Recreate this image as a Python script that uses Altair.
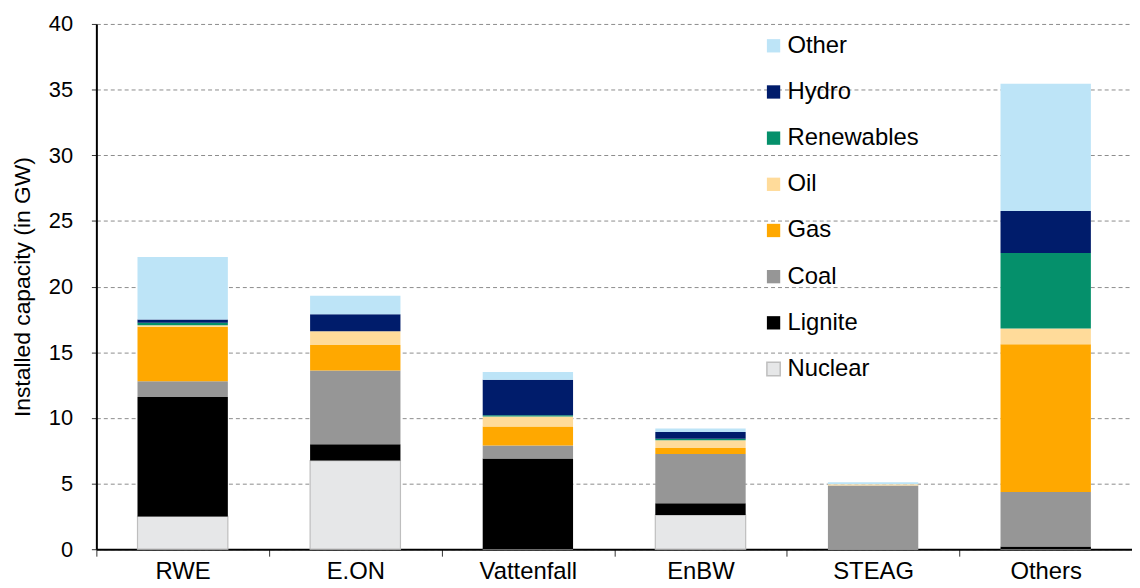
import altair as alt
import pandas as pd

companies = ["RWE", "E.ON", "Vattenfall", "EnBW", "STEAG", "Others"]
fuels = ["Nuclear", "Lignite", "Coal", "Gas", "Oil", "Renewables", "Hydro", "Other"]

nuclear = [2.5, 6.75, 0.0, 2.6, 0.0, 0.0]
lignite = [9.1, 1.25, 6.9, 0.9, 0.0, 0.2]
coal = [1.2, 5.6, 1.0, 3.75, 4.85, 4.15]
gas = [4.15, 1.95, 1.45, 0.45, 0.0, 11.25]
oil = [0.1, 1.05, 0.75, 0.6, 0.1, 1.2]
renewables = [0.2, 0.0, 0.1, 0.12, 0.0, 5.75]
hydro = [0.25, 1.3, 2.7, 0.5, 0.0, 3.2]
other = [4.75, 1.4, 0.6, 0.27, 0.15, 9.7]

series = [nuclear, lignite, coal, gas, oil, renewables, hydro, other]
colors = {
    "Other": "#BDE4F7",
    "Hydro": "#001C6B",
    "Renewables": "#05906B",
    "Oil": "#FFDB9A",
    "Gas": "#FFA800",
    "Coal": "#969696",
    "Lignite": "#000000",
    "Nuclear": "#E6E7E8",
}
strokes = {f: ("#BEBEBE" if f == "Nuclear" else "transparent") for f in colors}
legend_order = ["Other", "Hydro", "Renewables", "Oil", "Gas", "Coal", "Lignite", "Nuclear"]

rows = []
for i, (f, vals) in enumerate(zip(fuels, series)):
    for c, v in zip(companies, vals):
        rows.append({"company": c, "fuel": f, "value": v, "idx": i})
df = pd.DataFrame(rows)

FONT = "Liberation Sans"

leg = alt.Legend(title=None, orient="none", legendX=670, legendY=10,
                 symbolType="square", symbolSize=180, symbolStrokeWidth=1.5,
                 labelFontSize=24, labelFont=FONT, labelColor="#000000",
                 labelOffset=2, rowPadding=22.5, padding=0, labelLimit=300)

chart = alt.Chart(df).mark_bar(width=91, strokeWidth=1.2).encode(
    x=alt.X("company:N", sort=companies,
            scale=alt.Scale(paddingInner=0, paddingOuter=0),
            axis=alt.Axis(title=None, labelAngle=0, tickBand="extent", tickSize=7,
                          tickColor="#333333", domainColor="#000000", domainWidth=2,
                          labelFontSize=24, labelFont=FONT, labelColor="#000000",
                          labelPadding=3, grid=False)),
    y=alt.Y("value:Q", stack="zero",
            scale=alt.Scale(domain=[0, 40], nice=False),
            axis=alt.Axis(title="Installed capacity (in GW)", values=list(range(0, 41, 5)),
                          titleFontSize=23, titleFont=FONT, titleFontWeight="normal",
                          titleColor="#000000", titlePadding=14,
                          labelFontSize=22, labelFont=FONT, labelColor="#000000",
                          labelPadding=19, tickSize=5, tickColor="#333333",
                          domainColor="#000000", domainWidth=2,
                          grid=True, gridDash=[4, 3], gridColor="#8C8C8C", gridWidth=1)),
    color=alt.Color("fuel:N",
                    scale=alt.Scale(domain=legend_order, range=[colors[f] for f in legend_order]),
                    legend=leg),
    stroke=alt.Stroke("fuel:N",
                      scale=alt.Scale(domain=legend_order, range=[strokes[f] for f in legend_order]),
                      legend=leg),
    order=alt.Order("idx:Q", sort="ascending"),
).properties(
    width=1043,
    height=529,
    autosize=alt.AutoSizeParams(type="none"),
    padding={"left": 89, "top": 14, "right": 0, "bottom": 37},
    background="#FFFFFF",
).configure_view(stroke=None)

chart.save("out.html", embed_options={"renderer": "svg", "actions": False})
